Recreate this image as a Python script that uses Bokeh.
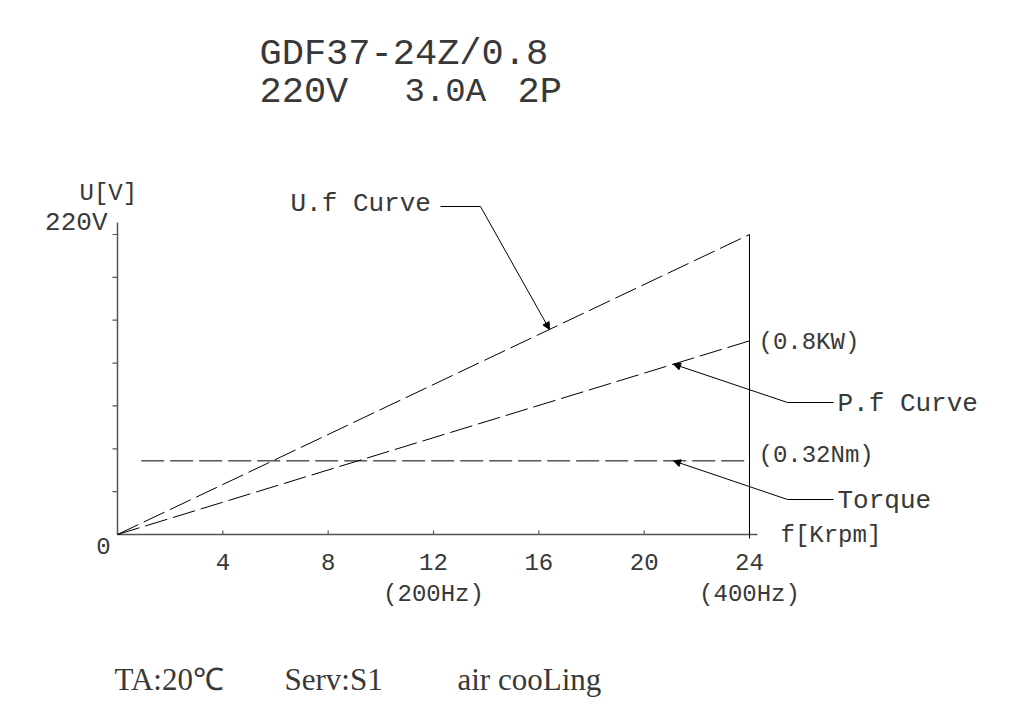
import numpy as np
from bokeh.plotting import figure
from bokeh.models import Range1d, Arrow, NormalHead
from bokeh.core.properties import value
from bokeh.embed import file_html
from bokeh.resources import INLINE

# ---------------- data ----------------
speed_krpm = [0, 24]                 # f [Krpm]
uf_voltage = [0, 220]                # U.f curve, volts
pf_on_u_axis = [0, 142]              # P.f curve drawn on the U axis (0.8 kW at 24 krpm)
torque_speed = [0.9, 24]
torque_on_u_axis = [54, 54]          # torque 0.32 Nm drawn on the U axis
x_ticks = [4, 8, 12, 16, 20, 24]
x_tick_labels = ["4", "8", "12", "16", "20", "24"]
y_ticks = [220 * i / 7 for i in range(1, 8)]
hz_speeds = [12, 24]
hz_labels = ["(200Hz)", "(400Hz)"]
end_labels = ["(0.8KW)", "(0.32Nm)"]

# ---------------- geometry ----------------
W, H = 998, 705
X0, Y0 = 117, 534          # canvas px of the origin
PX_X = 632 / 24.0
PX_Y = 300 / 220.0


def dx(px):
    return (px - X0) / PX_X


def dy(py):
    return (Y0 - py) / PX_Y


MONO = value("Liberation Mono")
SERIF = value("Liberation Serif")
TXT = "#383838"
AX = "#555555"

p = figure(width=W, height=H, output_backend="svg", toolbar_location=None,
           x_range=Range1d(dx(0), dx(W)), y_range=Range1d(dy(H), dy(0)),
           min_border=0, min_border_left=0, min_border_right=0,
           min_border_top=0, min_border_bottom=0)
p.axis.visible = False
p.outline_line_color = None
p.grid.visible = False
p.background_fill_color = "white"
p.border_fill_color = "white"

# axes drawn through the plot scales
p.line([0, dx(757)], [0, 0], line_color=AX, line_width=1.5)
p.line([0, 0], [0, dy(222)], line_color=AX, line_width=1.5)
p.segment(x0=x_ticks, y0=[0] * len(x_ticks), x1=x_ticks, y1=[4 / PX_Y] * len(x_ticks),
          line_color=AX, line_width=1.2)
p.segment(x0=[0] * len(y_ticks), y0=y_ticks, x1=[-5 / PX_X] * len(y_ticks), y1=y_ticks,
          line_color=AX, line_width=1.2)
p.text(x=x_ticks, y=[dy(561)] * len(x_ticks), text=x_tick_labels, text_font=MONO,
       text_font_size="24px", text_align="center", text_baseline="middle", text_color=TXT)

# right boundary at 24 krpm
p.line([speed_krpm[-1], speed_krpm[-1]], [dy(538), uf_voltage[-1]], line_color="black", line_width=1)

# curves
DASH = "23 6"
p.line(speed_krpm, uf_voltage, line_color="black", line_width=1, line_dash=DASH)
p.line(speed_krpm, pf_on_u_axis, line_color="black", line_width=1, line_dash=DASH)
p.line(torque_speed, torque_on_u_axis, line_color="black", line_width=1, line_dash=DASH)


# leaders
def leader(corner_pts, tip):
    xs = [c[0] for c in corner_pts]
    ys = [c[1] for c in corner_pts]
    p.line(xs, ys, line_color="black", line_width=1)
    p.add_layout(Arrow(end=NormalHead(size=7, fill_color="black", line_color="black", line_width=1),
                       x_start=xs[-1], y_start=ys[-1], x_end=tip[0], y_end=tip[1],
                       line_color="black", line_width=1))


uf_tip_x = dx(549)
leader([(dx(440), dy(206)), (dx(480), dy(206))],
       (uf_tip_x, float(np.interp(uf_tip_x, speed_krpm, uf_voltage))))
pf_tip_x = dx(673)
leader([(dx(833), dy(402)), (dx(787), dy(402))],
       (pf_tip_x, float(np.interp(pf_tip_x, speed_krpm, pf_on_u_axis))))
tq_tip_x = dx(673)
leader([(dx(833), dy(499)), (dx(787), dy(499))],
       (tq_tip_x, float(np.interp(tq_tip_x, torque_speed, torque_on_u_axis))))


def label(x, y, t, size, align="left", font=MONO):
    p.text(x=[x], y=[y], text=[t], text_font=font, text_font_size=size,
           text_align=align, text_baseline="middle", text_color=TXT)


# title
label(dx(259), dy(53), "GDF37-24Z/0.8", "37px")
label(dx(259), dy(91), "220V", "37px")
label(dx(404), dy(91), "3.0A", "34px")
label(dx(517), dy(91), "2P", "37px")

# axis texts
label(dx(79), dy(193), "U[V]", "24px")
label(dx(107), dy(222), "220V", "26px", align="right")
label(dx(103), dy(545), "0", "24px", align="center")
label(dx(780), dy(535), "f[Krpm]", "24px")
for s, t in zip(hz_speeds, hz_labels):
    label(s, dy(594), t, "24px", align="center")

# curve labels
label(dx(290), dy(203), "U.f Curve", "26px")
label(dx(837), dy(403), "P.f Curve", "26px")
label(dx(837), dy(500), "Torque", "26px")
label(dx(758), dy(342), end_labels[0], "24px")
label(dx(758), dy(455), end_labels[1], "24px")

# footer
label(dx(114), dy(679), "TA:20\u2103", "31px", font=SERIF)
label(dx(284), dy(679), "Serv:S1", "31px", font=SERIF)
label(dx(457), dy(679), "air cooLing", "31px", font=SERIF)

open("out.html", "w").write(file_html(p, INLINE))
